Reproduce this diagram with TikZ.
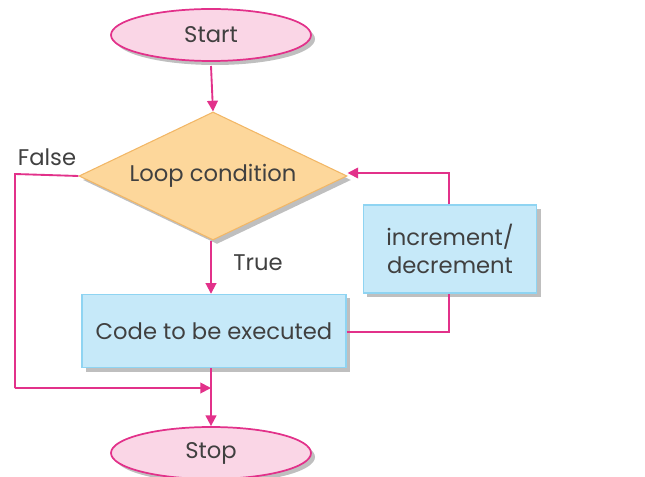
\documentclass[tikz,border=0pt]{standalone}
\usepackage{fontspec}
\setmainfont{Poppins}
\usetikzlibrary{shapes.geometric,shadows,arrows.meta}
\definecolor{lnpink}{HTML}{E2318A}
\definecolor{elfill}{HTML}{FAD6E6}
\definecolor{dmfill}{HTML}{FDD79B}
\definecolor{dmline}{HTML}{F2B766}
\definecolor{bxfill}{HTML}{C6E9F9}
\definecolor{bxline}{HTML}{8FD4F2}
\definecolor{txt}{HTML}{404040}
\tikzset{
  shd/.style={drop shadow={shadow xshift=3pt,shadow yshift=-3pt,fill=black!25,opacity=1}},
  ftxt/.style={text=txt,font=\fontsize{17}{21}\selectfont},
  term/.style={ellipse,draw=lnpink,line width=1.3pt,fill=elfill,minimum width=150pt,minimum height=39pt,inner sep=0pt,shd,ftxt},
  cond/.style={diamond,draw=dmline,line width=0.8pt,fill=dmfill,minimum width=201pt,minimum height=96pt,aspect=2.1,inner sep=0pt,shd,ftxt},
  proc/.style={rectangle,draw=bxline,line width=0.8pt,fill=bxfill,inner sep=0pt,shd,ftxt,align=center},
  conn/.style={draw=lnpink,line width=1.4pt},
  arr/.style={conn,-{Triangle[length=8pt,width=8pt]}},
  lbl/.style={ftxt}
}
\begin{document}
\begin{tikzpicture}[x=0.75pt,y=-0.75pt]
\useasboundingbox (0,0) rectangle (645,477);
\node[term] (start) at (211,35) {Start};
\node[cond] (loop) at (213,176) {Loop condition};
\node[proc,minimum width=198pt,minimum height=55pt] (code) at (214,331) {Code to be executed};
\node[proc,minimum width=130pt,minimum height=66pt] (inc) at (450,249) {increment/\\decrement};
\node[term] (stop) at (211,453) {Stop};
\node[lbl] (false) at (47,157) {False};
\node[lbl] (true) at (258,263) {True};
\coordinate (fl1) at (15,174);
\coordinate (fl2) at (15,388);
\coordinate (fj) at (211,388);
\coordinate (cr) at (449,332);
\coordinate (ur) at (449,173);
\draw[arr] (start.south |- 0,66) -- (loop.north);
\draw[arr] (loop.south -| 211,0) -- (code.north -| 211,0);
\draw[conn] (loop.west) -- (fl1) -- (fl2);
\draw[arr] (fl2) -- (fj);
\draw[arr] (code.south -| 211,0) -- (stop.north);
\draw[conn] (code.east |- cr) -- (cr) -- (inc.south -| cr);
\draw[arr] (inc.north -| ur) -- (ur) -- (loop.east |- ur);
\end{tikzpicture}
\end{document}
